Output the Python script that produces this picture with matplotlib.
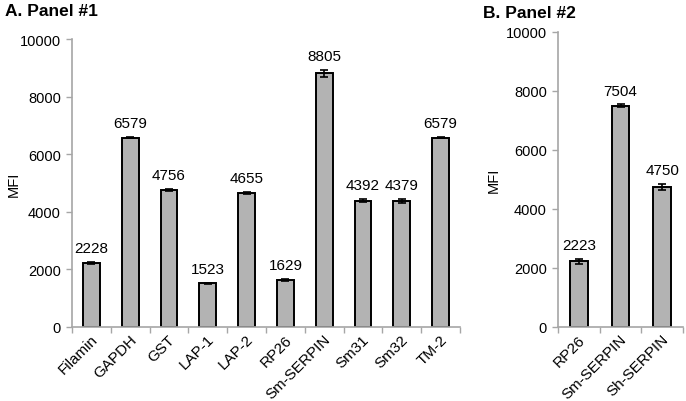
import matplotlib
matplotlib.use("Agg")
import matplotlib.pyplot as plt
import matplotlib.transforms as mtransforms
import numpy as np

plt.rcParams['font.family'] = ['Liberation Sans', 'DejaVu Sans']

cats_a = ["Filamin", "GAPDH", "GST", "LAP-1", "LAP-2", "RP26", "Sm-SERPIN", "Sm31", "Sm32", "TM-2"]
vals_a = [2228, 6579, 4756, 1523, 4655, 1629, 8805, 4392, 4379, 6579]
err_a = [30, 30, 40, 20, 40, 40, 130, 60, 70, 30]

cats_b = ["RP26", "Sm-SERPIN", "Sh-SERPIN"]
vals_b = [2223, 7504, 4750]
err_b = [90, 40, 90]

W, H = 686, 402
fig = plt.figure(figsize=(W / 100, H / 100), dpi=100)

def rect(l, r, t, b):
    return [l / W, 1 - b / H, (r - l) / W, (b - t) / H]

axA = fig.add_axes(rect(72, 460, 40, 328))
axB = fig.add_axes(rect(558, 683, 33, 328))

spine_c = '#a6a6a6'

def draw(ax, cats, vals, errs):
    x = np.arange(len(cats))
    ax.bar(x, vals, width=0.43, color='#b3b3b3', edgecolor='black', linewidth=1.4,
           yerr=errs, error_kw=dict(ecolor='black', elinewidth=1.2, capsize=3, capthick=1.2))
    for xi, v, e in zip(x, vals, errs):
        ax.text(xi, v + e + 230, str(v), ha='center', va='bottom', fontsize=11)
    ax.set_xlim(-0.5, len(cats) - 0.5)
    ax.set_ylim(0, 10000)
    ax.set_yticks(range(0, 10001, 2000))
    ax.set_xticks(x)
    ax.set_xticklabels(cats, rotation=45, ha='right', va='center', rotation_mode='anchor', fontsize=11)
    ax.tick_params(axis='x', length=0, pad=7)
    offset = mtransforms.ScaledTranslation(4 / 100, 0, fig.dpi_scale_trans)
    for lab in ax.get_xticklabels():
        lab.set_transform(lab.get_transform() + offset)
    ax.set_xticks(np.arange(-0.5, len(cats), 1.0), minor=True)
    ax.tick_params(axis='x', which='minor', length=4, color=spine_c, width=1)
    ax.tick_params(axis='y', length=4, color=spine_c, width=1, labelsize=10.5, pad=4)
    for s in ['top', 'right']:
        ax.spines[s].set_visible(False)
    for s in ['left', 'bottom']:
        ax.spines[s].set_color(spine_c)
        ax.spines[s].set_linewidth(1.2)
    ax.set_ylabel('MFI', fontsize=10.5)

draw(axA, cats_a, vals_a, err_a)
draw(axB, cats_b, vals_b, err_b)
axA.yaxis.set_label_coords(-0.133, 0.5)
axB.yaxis.set_label_coords(-0.455, 0.5)

fig.text(5 / W, 1 - 12 / H, "A. Panel #1", fontsize=12.5, fontweight='bold', ha='left', va='center')
fig.text(483 / W, 1 - 13 / H, "B. Panel #2", fontsize=12.5, fontweight='bold', ha='left', va='center')

fig.savefig("out.png", dpi=100)
